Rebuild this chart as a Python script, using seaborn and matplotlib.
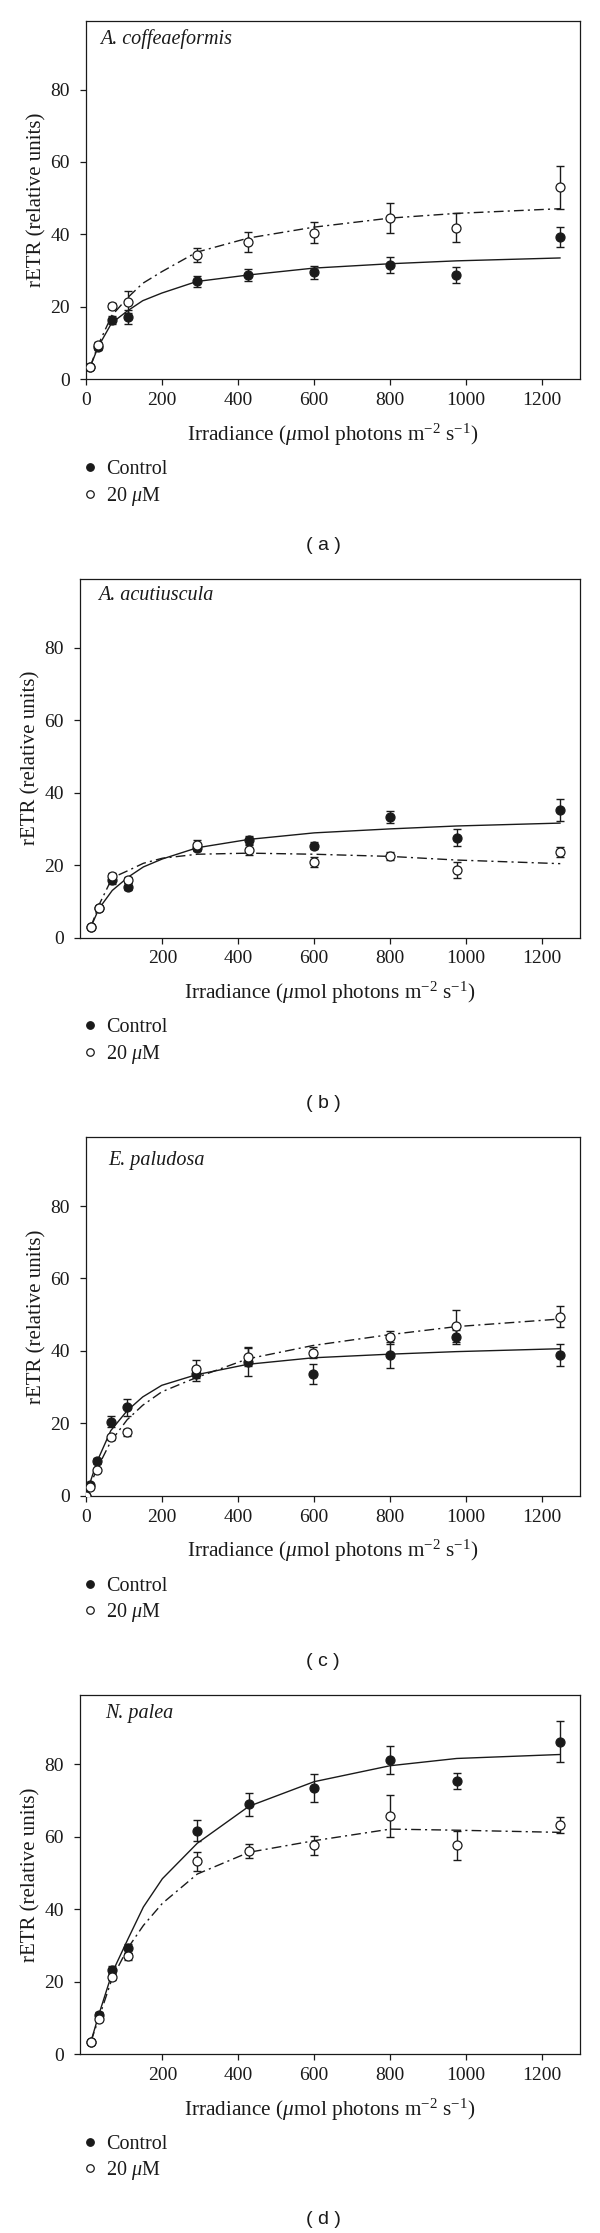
import matplotlib
matplotlib.use("Agg")
import matplotlib.pyplot as plt
from matplotlib.lines import Line2D
import seaborn as sns
import pandas as pd

# irradiance levels (umol photons m-2 s-1)
IRR = [12, 33, 68, 110, 292, 428, 600, 800, 975, 1248]
IRR_C = [0, 11, 30, 66, 109, 290, 426, 598, 800, 974, 1247]
FIT_X = [12, 33, 68, 110, 150, 200, 292, 428, 600, 800, 975, 1248]
FIT_X_C = [0, 11, 30, 66, 109, 150, 200, 290, 426, 598, 800, 974, 1247]

SPECIES = ['A. coffeaeformis', 'A. acutiuscula', 'E. paludosa', 'N. palea']
PANEL_TAGS = ['( a )', '( b )', '( c )', '( d )']

# (a) A. coffeaeformis
a_ctrl = [3.3, 8.9, 16.4, 17.2, 27.0, 28.8, 29.5, 31.6, 28.8, 39.2]
a_ctrl_err = [0.5, 0.8, 1.0, 1.8, 1.5, 1.7, 1.7, 2.2, 2.3, 2.8]
a_treat = [3.3, 9.5, 20.3, 21.3, 34.3, 37.9, 40.5, 44.6, 41.9, 53.0]
a_treat_err = [0.5, 0.8, 0.8, 3.0, 2.0, 2.8, 3.0, 4.1, 3.9, 5.9]
a_fit_ctrl = [3.5, 9.0, 15.5, 18.9, 21.7, 23.8, 27.0, 28.8, 30.7, 31.9, 32.7, 33.5]
a_fit_treat = [3.5, 9.5, 17.5, 22.5, 26.5, 29.7, 35.1, 39.0, 42.0, 44.5, 45.8, 47.1]

# (b) A. acutiuscula
b_ctrl = [2.8, 8.2, 15.8, 14.0, 24.8, 26.8, 25.4, 33.2, 27.6, 35.3]
b_ctrl_err = [0.4, 0.6, 1.0, 1.0, 1.0, 1.3, 1.0, 1.7, 2.3, 3.0]
b_treat = [2.8, 8.2, 17.0, 15.8, 25.6, 24.3, 20.9, 22.5, 18.7, 23.6]
b_treat_err = [0.4, 0.6, 0.8, 0.8, 1.2, 1.5, 1.3, 1.0, 2.2, 1.3]
b_fit_ctrl = [3.0, 8.0, 13.0, 16.7, 19.5, 21.7, 24.8, 27.1, 28.9, 30.0, 30.8, 31.6]
b_fit_treat = [3.0, 9.0, 16.5, 18.5, 20.5, 21.9, 23.0, 23.3, 23.0, 22.4, 21.4, 20.4]

# (c) E. paludosa
c_ctrl = [0.0, 3.0, 9.7, 20.5, 24.4, 33.6, 36.9, 33.6, 38.8, 43.8, 38.8]
c_ctrl_err = [0.3, 0.6, 0.8, 1.5, 2.3, 2.0, 3.8, 2.8, 3.6, 2.0, 3.0]
c_treat = [0.0, 2.5, 7.1, 16.1, 17.5, 34.9, 38.4, 39.5, 43.8, 46.9, 49.5]
c_treat_err = [0.2, 0.5, 0.6, 0.8, 1.0, 2.5, 2.7, 1.5, 1.8, 4.5, 3.0]
c_fit_ctrl = [0.0, 3.5, 9.5, 18.0, 23.5, 27.3, 30.5, 33.4, 36.3, 38.1, 39.1, 39.8, 40.6]
c_fit_treat = [0.0, 2.8, 7.5, 15.0, 21.0, 25.0, 28.7, 32.6, 37.8, 41.5, 44.5, 46.7, 48.8]

# (d) N. palea
d_ctrl = [3.3, 10.7, 23.3, 29.2, 61.7, 68.9, 73.4, 81.2, 75.5, 86.2]
d_ctrl_err = [0.5, 0.8, 1.0, 1.2, 3.0, 3.3, 3.8, 3.9, 2.2, 5.7]
d_treat = [3.3, 9.6, 21.3, 27.0, 53.2, 56.1, 57.6, 65.6, 57.7, 63.2]
d_treat_err = [0.5, 0.6, 0.8, 1.0, 2.7, 2.0, 2.6, 5.8, 4.0, 2.3]
d_fit_ctrl = [3.5, 11.0, 22.5, 31.9, 40.6, 48.4, 58.2, 68.4, 75.2, 79.6, 81.6, 82.7]
d_fit_treat = [3.5, 10.0, 21.0, 29.4, 35.5, 41.6, 49.7, 55.7, 58.9, 62.1, 61.8, 61.2]

INK = '#1a1a1a'
W, H = 600, 2233
PANEL_H = H / 4


def draw_panel(fig, k, x, ctrl, ctrl_err, treat, treat_err, fit_x, fit_ctrl,
               fit_treat, xmin, left_px, name_dx, name_dy):
    top = k * PANEL_H + 20.7
    bottom = k * PANEL_H + 379.3
    right = 580
    ax = fig.add_axes([left_px / W, 1 - bottom / H, (right - left_px) / W,
                       (bottom - top) / H])

    df = pd.DataFrame({'x': x, 'ctrl': ctrl, 'ctrl_err': ctrl_err,
                       'treat': treat, 'treat_err': treat_err})
    fit = pd.DataFrame({'x': fit_x, 'ctrl': fit_ctrl, 'treat': fit_treat})

    sns.lineplot(fit, x='x', y='ctrl', ax=ax, color=INK, lw=1.0,
                 sort=False, zorder=2)
    sns.lineplot(fit, x='x', y='treat', ax=ax, color=INK, lw=1.0,
                 linestyle=(0, (7, 3, 1.5, 3)), sort=False, zorder=2)

    for col in ['ctrl', 'treat']:
        ax.errorbar(df['x'], df[col], yerr=df[col + '_err'], fmt='none',
                    ecolor=INK, elinewidth=1.0, capsize=3.2, capthick=1.0,
                    zorder=3)
    sns.scatterplot(df, x='x', y='ctrl', ax=ax, color=INK, edgecolor=INK,
                    s=42, linewidth=0.9, zorder=4)
    sns.scatterplot(df, x='x', y='treat', ax=ax, color='white',
                    edgecolor=INK, s=42, linewidth=0.9, zorder=5)

    ax.set_xlim(xmin, 1300)
    ax.set_ylim(0, 99)
    ax.set_yticks([0, 20, 40, 60, 80])
    ax.set_xticks([0, 200, 400, 600, 800, 1000, 1200] if xmin >= 0
                  else [200, 400, 600, 800, 1000, 1200])
    ax.tick_params(direction='out', length=4.3, width=0.9, labelsize=14,
                   color=INK, labelcolor=INK, pad=5)
    ax.tick_params(axis='y', pad=7)
    for s in ax.spines.values():
        s.set_visible(True)
        s.set_linewidth(0.9)
        s.set_color(INK)

    ax.set_xlabel(r'Irradiance ($\mu$mol photons m$^{-2}$ s$^{-1}$)',
                  fontsize=15.3, color=INK, labelpad=9)
    ax.set_ylabel('rETR (relative units)', fontsize=15, color=INK,
                  labelpad=3)

    ax.annotate(SPECIES[k], xy=(0, 1), xycoords='axes fraction',
                xytext=(name_dx * 0.72, -name_dy * 0.72),
                textcoords='offset points', ha='left', va='center',
                fontsize=14.5, style='italic', color=INK)

    handles = [Line2D([], [], ls='none', marker='o', ms=5.4,
                      mfc=INK, mec=INK, mew=0.9),
               Line2D([], [], ls='none', marker='o', ms=5.4,
                      mfc='white', mec=INK, mew=0.9)]
    ax.legend(handles, ['Control', r'20 $\mu$M'], loc='upper left',
              bbox_to_anchor=(85 / W, 1 - (k * PANEL_H + 460) / H),
              bbox_transform=fig.transFigure, frameon=False, fontsize=14.5,
              handlelength=0.5, handletextpad=0.55, labelspacing=0.28,
              borderpad=0, borderaxespad=0, labelcolor=INK)

    fig.text(323 / W, 1 - (k * PANEL_H + 545) / H, PANEL_TAGS[k],
             ha='center', va='center', fontsize=14, color=INK,
             family=['Liberation Sans', 'DejaVu Sans'])
    return ax


def main():
    sns.set_theme(style='ticks')
    plt.rcParams['font.family'] = ['Liberation Serif', 'DejaVu Serif']
    plt.rcParams['mathtext.fontset'] = 'custom'
    plt.rcParams['mathtext.rm'] = 'Liberation Serif'
    plt.rcParams['mathtext.it'] = 'Liberation Serif:italic'

    fig = plt.figure(figsize=(W / 100, H / 100), dpi=100)
    fig.patch.set_facecolor('white')

    draw_panel(fig, 0, IRR, a_ctrl, a_ctrl_err, a_treat, a_treat_err,
               FIT_X, a_fit_ctrl, a_fit_treat, 0, 85.7, 14, 18.3)
    draw_panel(fig, 1, IRR, b_ctrl, b_ctrl_err, b_treat, b_treat_err,
               FIT_X, b_fit_ctrl, b_fit_treat, -18, 79.6, 18.5, 17)
    draw_panel(fig, 2, IRR_C, c_ctrl, c_ctrl_err, c_treat, c_treat_err,
               FIT_X_C, c_fit_ctrl, c_fit_treat, 0, 85.7, 23, 23)
    draw_panel(fig, 3, IRR, d_ctrl, d_ctrl_err, d_treat, d_treat_err,
               FIT_X, d_fit_ctrl, d_fit_treat, -18, 79.6, 26, 18)

    fig.savefig('out.png', dpi=100)


if __name__ == '__main__':
    main()
